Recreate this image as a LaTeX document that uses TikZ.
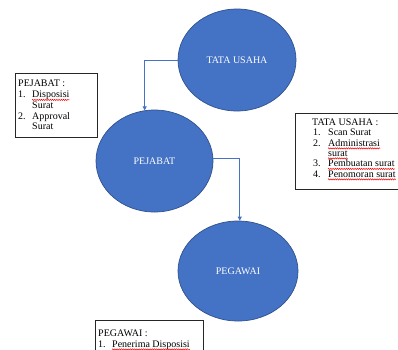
\documentclass[tikz,border=0pt]{standalone}
\usepackage{fontspec}
\setmainfont{Liberation Serif}
\usetikzlibrary{shapes.geometric,arrows.meta,decorations.pathmorphing}
\definecolor{ovalblue}{HTML}{4472C4}
\definecolor{ovaledge}{HTML}{2F528F}
\tikzset{
    oval/.style={ellipse,fill=ovalblue,draw=ovaledge,line width=0.7pt,inner sep=0pt,
        text=white,font=\fontsize{10}{10}\selectfont},
    flow/.style={ovalblue,line width=0.8pt,-{Triangle[length=4pt,width=4pt]}},
    listbox/.style={draw=black!85,line width=0.9pt,fill=white,anchor=north west,inner sep=0pt},
    txt/.style={anchor=base west,inner sep=0pt,font=\fontsize{10}{10}\selectfont},
    typo/.style={red,line width=0.5pt,decorate,
        decoration={snake,amplitude=0.6pt,segment length=2.2pt}}
}
\begin{document}
\begin{tikzpicture}[x=1pt,y=-1pt]
            \clip (0,0) rectangle (398,349);
            \fill[white] (0,0) rectangle (398,349);
            %ovals
            \node[oval,minimum width=118pt,minimum height=102pt] (tu) at (237,60) {TATA USAHA};
            \node[oval,minimum width=117pt,minimum height=102pt] (pj) at (154.5,161) {PEJABAT};
            \node[oval,minimum width=120pt,minimum height=100pt] (pg) at (238,271) {PEGAWAI};
            %arrows
            \draw[flow] (tu.west) -| (pj.101);
            \draw[flow] (pj.3) -| (pg.88);
            %PEJABAT
            \node[listbox,minimum width=82pt,minimum height=64pt] (pjbox) at (15,73) {};
            \node[txt] (pjh) at (18,86.5) {PEJABAT :};
            \node[txt] (pj1n) at (18,97.5) {1.};
            \node[txt] (pj1) at (32,97.5) {Disposisi};
            \node[txt] (pj1b) at (32,108) {Surat};
            \node[txt] (pj2n) at (18,119) {2.};
            \node[txt] (pj2) at (32,119) {Approval};
            \node[txt] (pj2b) at (32,129.5) {Surat};
            \draw[typo] ([yshift=-2.4pt]pj1.base west) -- ([yshift=-2.4pt]pj1.base east);
            %TATA USAHA
            \node[listbox,minimum width=103pt,minimum height=76pt] (tubox) at (295,113) {};
            \node[txt] (tuh) at (312,125) {TATA USAHA :};
            \node[txt] (tu1n) at (313,135.5) {1.};
            \node[txt] (tu1) at (328,135.5) {Scan Surat};
            \node[txt] (tu2n) at (313,146) {2.};
            \node[txt] (tu2) at (328,146) {Administrasi};
            \node[txt] (tu2b) at (328,156) {surat};
            \node[txt] (tu3n) at (313,166.5) {3.};
            \node[txt] (tu3) at (328,166.5) {Pembuatan surat};
            \node[txt] (tu4n) at (313,177) {4.};
            \node[txt] (tu4) at (328,177) {Penomoran surat};
            \draw[typo] ([yshift=-2.4pt]tu2.base west) -- ([yshift=-2.4pt]tu2.base east);
            \draw[typo] ([yshift=-2.4pt]tu2b.base west) -- ([yshift=-2.4pt]tu2b.base east);
            \draw[typo] ([yshift=-2.4pt]tu3.base west) -- ([yshift=-2.4pt]tu3.base east);
            \draw[typo] ([yshift=-2.4pt]tu4.base west) -- ([yshift=-2.4pt]tu4.base east);
            %PEGAWAI
            \node[listbox,minimum width=108pt,minimum height=40pt] (pgbox) at (95,320) {};
            \node[txt] (pgh) at (98,336.5) {PEGAWAI :};
            \node[txt] (pg1n) at (98,347) {1.};
            \node[txt] (pg1) at (112,347) {Penerima Disposisi};
            \draw[typo] ([yshift=-2.4pt]pg1.base west) -- ([yshift=-2.4pt]pg1.base east);
        \end{tikzpicture}
\end{document}
